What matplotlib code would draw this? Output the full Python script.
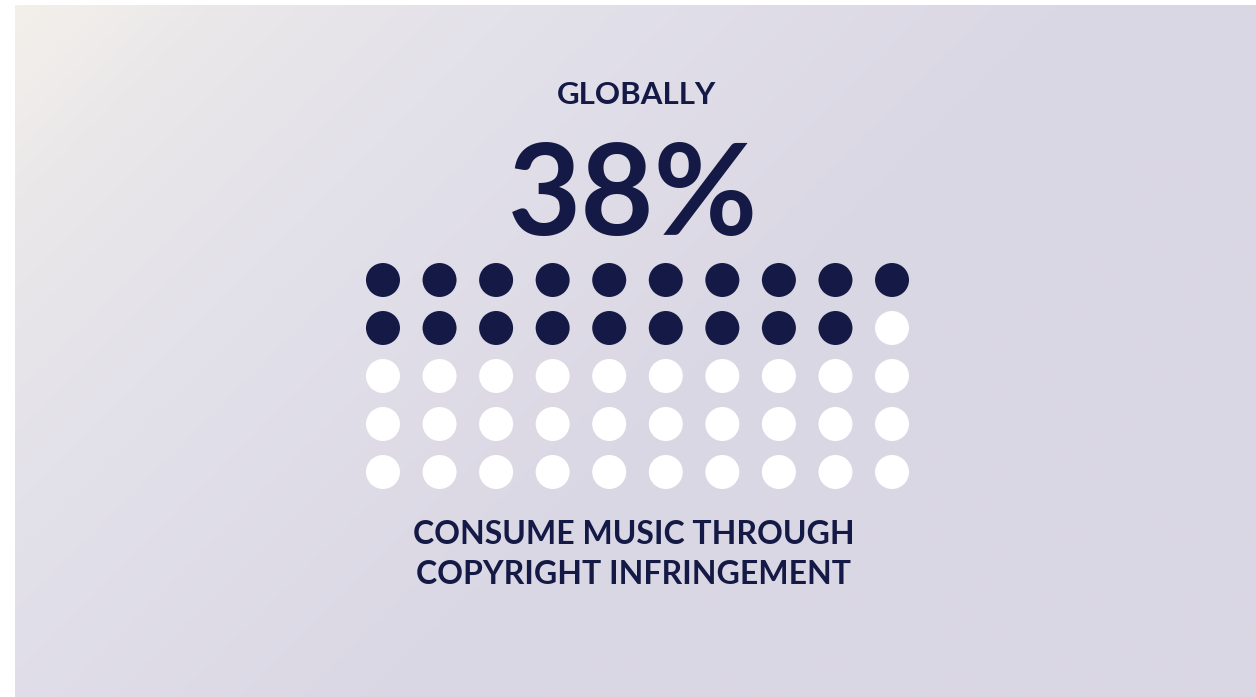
import numpy as np
import matplotlib
matplotlib.use("Agg")
import matplotlib.pyplot as plt
from matplotlib.colors import LinearSegmentedColormap

# dados do gráfico
percent = 38
n_cols = 10
n_rows = 5
title_top = "GLOBALLY"
caption = ["CONSUME MUSIC THROUGH", "COPYRIGHT INFRINGEMENT"]

navy = "#141a45"
W, H = 1256, 697

fig = plt.figure(figsize=(W / 100, H / 100), dpi=100)
fig.patch.set_facecolor("white")

# fundo com gradiente diagonal
bg = fig.add_axes([0, 0, 1, 1])
bg.set_xlim(0, W)
bg.set_ylim(H, 0)
bg.axis("off")
px, py = np.meshgrid(np.linspace(15, W, 400), np.linspace(5, H, 240))
t = np.clip((px + py) / 1250, 0, 1)
cmap = LinearSegmentedColormap.from_list(
    "bg", [(0, "#f4f1ea"), (0.17, "#ebe8ea"), (0.45, "#e2e0e9"), (0.85, "#dbd8e5"), (1, "#dad7e4")])
bg.imshow(t, cmap=cmap, extent=(15, W, H, 5), aspect="auto", interpolation="bilinear", vmin=0, vmax=1)

# textos
bg.text(637, 95, title_top, ha="center", va="center", fontsize=22.5, fontweight="bold",
        family="Lato", color=navy)
bg.text(633, 199, f"{percent}%", ha="center", va="center", fontsize=91, fontweight="bold",
        family="Lato", color=navy)
bg.text(634, 534, caption[0], ha="center", va="center", fontsize=23, fontweight="bold",
        family="Lato", color=navy)
bg.text(634, 575, caption[1], ha="center", va="center", fontsize=23, fontweight="bold",
        family="Lato", color=navy)

# grade de bolinhas
x0, x1 = 383 - 28.3, 892 + 28.3
y0, y1 = 280 - 24, 472 + 24
ax = fig.add_axes([x0 / W, 1 - y1 / H, (x1 - x0) / W, (y1 - y0) / H])
ax.set_xlim(-0.5, n_cols - 0.5)
ax.set_ylim(n_rows - 0.5, -0.5)
ax.axis("off")

total = n_cols * n_rows
filled = round(percent / 100 * total)
idx = np.arange(total)
cols = idx % n_cols
rows = idx // n_cols
colors = [navy if i < filled else "white" for i in idx]
ax.scatter(cols, rows, s=(34 * 0.72) ** 2, c=colors, linewidths=0)

fig.savefig("out.png", dpi=100)
